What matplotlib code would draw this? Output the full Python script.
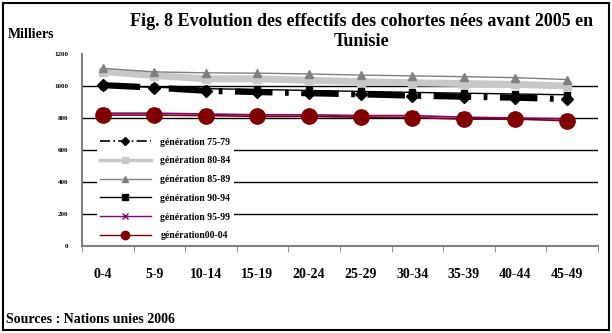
import matplotlib.pyplot as plt
import numpy as np
from matplotlib.patches import Rectangle
from matplotlib.lines import Line2D

ages = ['0-4', '5-9', '10-14', '15-19', '20-24', '25-29', '30-34', '35-39', '40-44', '45-49']
g75_79 = [1005, 990, 970, 962, 955, 948, 940, 933, 927, 918]
g80_84 = [1090, 1065, 1045, 1045, 1035, 1027, 1020, 1015, 1010, 1000]
g85_89 = [1110, 1088, 1082, 1080, 1075, 1068, 1063, 1058, 1052, 1040]
g90_94 = [1000, 992, 983, 978, 972, 966, 960, 955, 950, 945]
g95_99 = [830, 830, 825, 820, 820, 815, 815, 805, 800, 795]
g00_04 = [818, 818, 815, 810, 810, 805, 803, 793, 793, 783]
yticks = [0, 200, 400, 600, 800, 1000, 1200]

serif = 'Liberation Serif'
x = np.arange(len(ages))

fig = plt.figure(figsize=(6.12, 3.33), dpi=100)
ax = fig.add_axes([0.134, 0.261, 0.843, 0.577])

ax.plot(x, g85_89, color='#808080', lw=1, marker='^', ms=6, zorder=3)
ax.plot(x, g80_84, color='#c8c8c8', lw=5, marker='s', ms=6, zorder=2)
ax.plot(x, g90_94, color='black', lw=1, marker='s', ms=5, zorder=3)
ax.plot(x, g75_79, color='black', lw=4.5, marker='D', ms=6, dashes=(6, 2, 0.6, 2), zorder=4)
ax.plot(x, g95_99, color='#800080', lw=1.2, marker='x', ms=7, mew=1, zorder=4)
ax.plot(x, g00_04, color='#800000', lw=1.2, marker='o', ms=11, zorder=5)

ax.set_xlim(-0.4, 9.6)
ax.set_ylim(0, 1200)
ax.set_yticks(yticks)
ax.set_yticklabels([str(v) for v in yticks], fontsize=5, fontfamily=serif, fontweight='bold')
ax.set_xticks(x)
ax.set_xticklabels(ages, fontsize=10, fontfamily=serif, fontweight='bold')
ax.set_xticks(np.arange(len(ages) + 1) - 0.5 + 0.1, minor=True)
ax.tick_params(axis='x', which='major', length=0, pad=16)
ax.tick_params(axis='x', which='minor', length=4, color='#808080', direction='out')
ax.tick_params(axis='y', length=0, pad=10)
for v in yticks[1:-1]:
    ax.axhline(v, color='black', lw=1, zorder=1)
for s in ['top', 'right']:
    ax.spines[s].set_visible(False)
for s in ['left', 'bottom']:
    ax.spines[s].set_color('#808080')
    ax.spines[s].set_linewidth(1.5)

handles = [
    Line2D([], [], color='black', lw=1.2, marker='D', ms=4, dashes=(6, 2, 1, 2)),
    Line2D([], [], color='#c8c8c8', lw=2.5, marker='s', ms=5),
    Line2D([], [], color='#808080', lw=1, marker='^', ms=5),
    Line2D([], [], color='black', lw=1, marker='s', ms=4),
    Line2D([], [], color='#800080', lw=1, marker='x', ms=5),
    Line2D([], [], color='#800000', lw=1, marker='o', ms=6),
]
labels = ['génération 75-79', 'génération 80-84', 'génération 85-89',
          'génération 90-94', 'génération 95-99', 'génération00-04']
leg = ax.legend(handles, labels, loc='lower left', bbox_to_anchor=(0.02, -0.01),
                frameon=True, framealpha=1, edgecolor='none', fancybox=False,
                prop={'family': serif, 'weight': 'bold', 'size': 7},
                handlelength=5.2, handletextpad=1.0, labelspacing=1.0, borderpad=0.3)
leg.set_zorder(6)

fig.text(0.59, 0.905, 'Fig. 8 Evolution des effectifs des cohortes nées avant 2005 en\nTunisie',
         ha='center', va='center', fontsize=13, fontweight='bold', fontfamily=serif, linespacing=1.2)
fig.text(0.013, 0.895, 'Milliers', fontsize=10, fontweight='bold', fontfamily=serif, va='center')
fig.text(0.01, 0.042, 'Sources : Nations unies 2006', fontsize=10, fontweight='bold',
         fontfamily=serif, va='center')
fig.patches.append(Rectangle((0.005, 0.01), 0.99, 0.98, transform=fig.transFigure,
                             fill=False, edgecolor='black', lw=1.5))

fig.savefig('out.png', dpi=100)
